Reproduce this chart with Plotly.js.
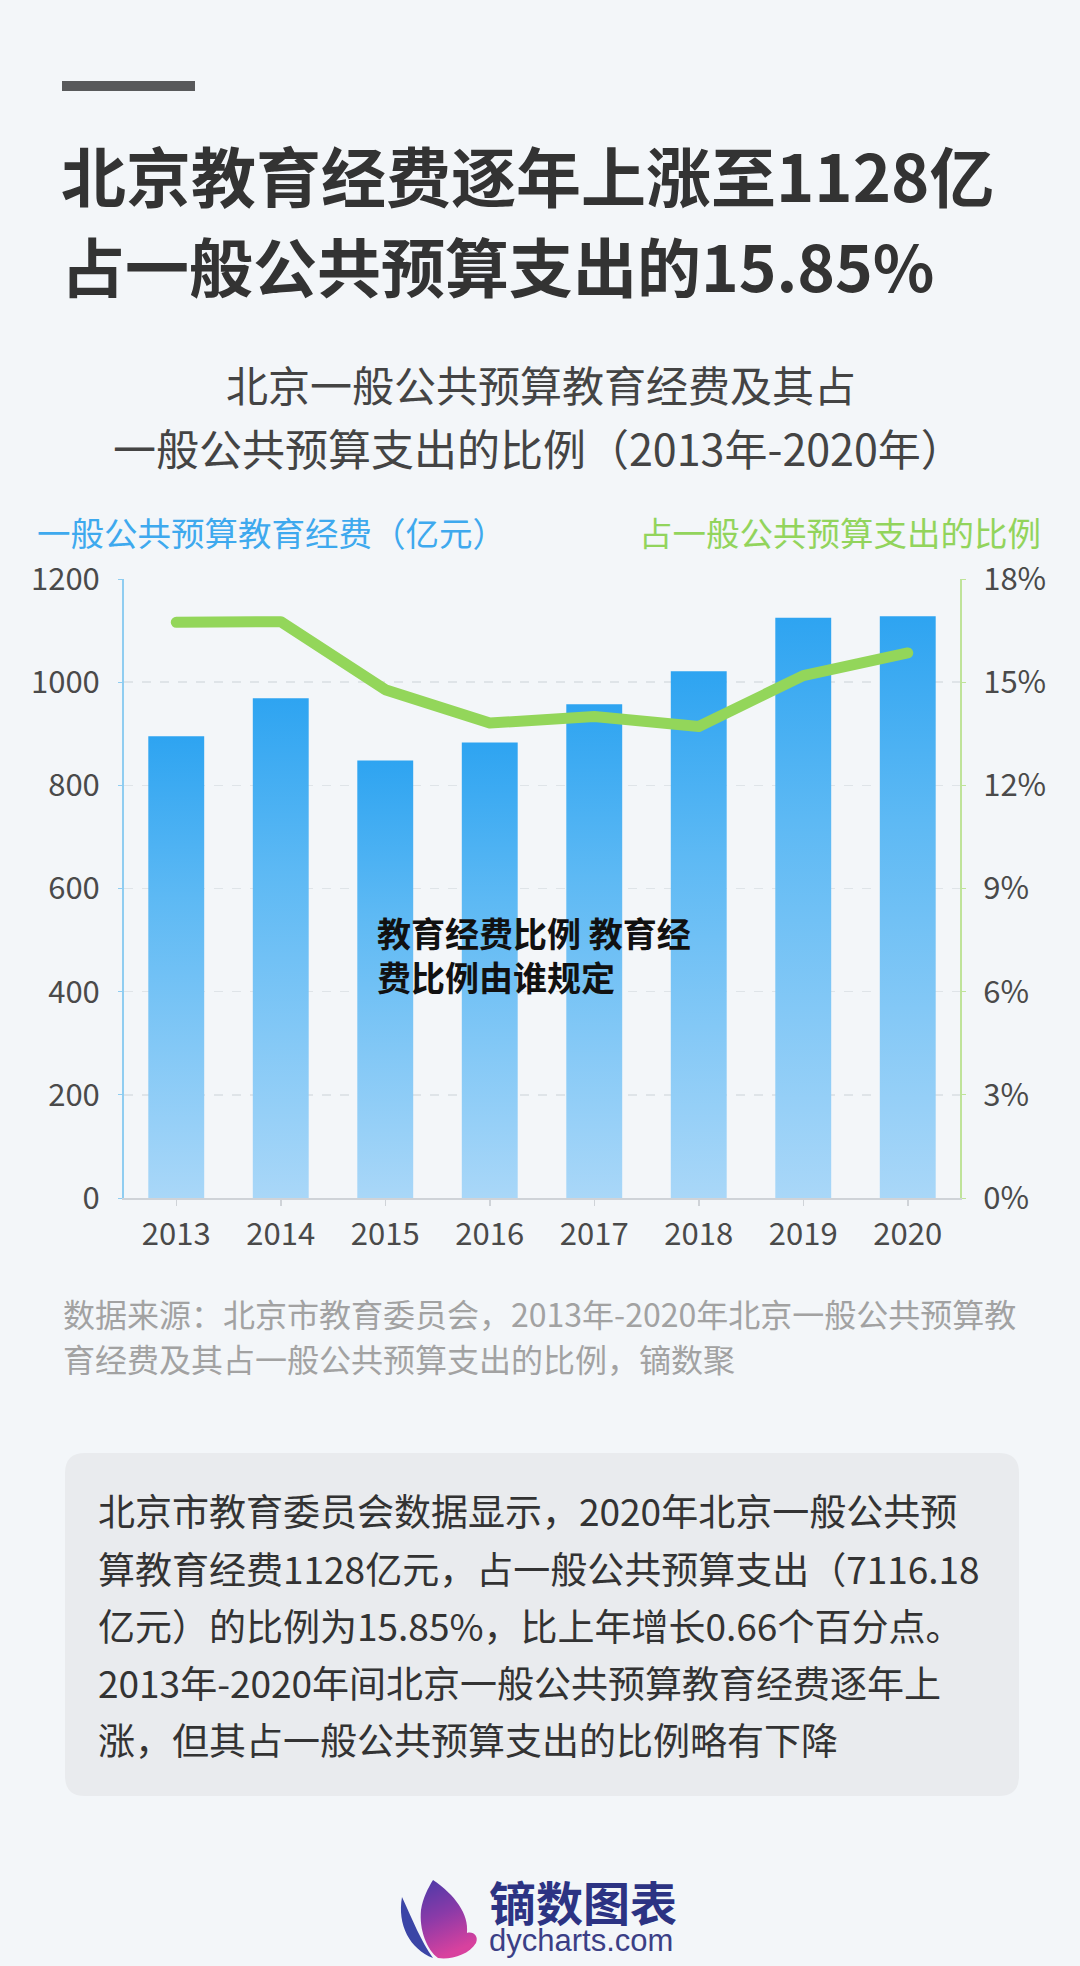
<!DOCTYPE html>
<html>
<head>
<meta charset="utf-8">
<script src="https://cdn.plot.ly/plotly-3.0.1.min.js"></script>
<style>
  html, body { margin: 0; padding: 0; background: #f3f6f9; }
  #chart { width: 1080px; height: 1966px; }
</style>
</head>
<body>
<div id="chart"></div>
<script>
// ---------- data ----------
const years = ['2013', '2014', '2015', '2016', '2017', '2018', '2019', '2020'];
const funding = [895, 969, 848, 883, 957, 1021, 1125, 1128];          // 亿元
const share = [16.74, 16.76, 14.78, 13.81, 14.00, 13.71, 15.19, 15.85]; // %
const leftTicks = [0, 200, 400, 600, 800, 1000, 1200];
const rightTicks = [0, 3, 6, 9, 12, 15, 18];

const titleLine1 = '北京教育经费逐年上涨至1128亿';
const titleLine2 = '占一般公共预算支出的15.85%';
const subLine1 = '北京一般公共预算教育经费及其占';
const subLine2 = '一般公共预算支出的比例（2013年-2020年）';
const leftLabel = '一般公共预算教育经费（亿元）';
const rightLabel = '占一般公共预算支出的比例';
const overlayLines = ['教育经费比例 教育经', '费比例由谁规定'];
const sourceLines = ['数据来源：北京市教育委员会，2013年-2020年北京一般公共预算教',
                     '育经费及其占一般公共预算支出的比例，镝数聚'];
const boxLines = ['北京市教育委员会数据显示，2020年北京一般公共预',
                  '算教育经费1128亿元，占一般公共预算支出（7116.18',
                  '亿元）的比例为15.85%，比上年增长0.66个百分点。',
                  '2013年-2020年间北京一般公共预算教育经费逐年上',
                  '涨，但其占一般公共预算支出的比例略有下降'];
const logoCN = '镝数图表';
const logoEN = 'dycharts.com';

// ---------- helpers ----------
const W = 1080, H = 1966;
const FONT = '"Noto Sans CJK SC", "Noto Sans", sans-serif';
const px = x => x / W;
const py = y => 1 - y / H;
function ann(text, x, y, size, color, xanchor, extra) {
  return Object.assign({
    text: text, x: px(x), y: py(y), xref: 'paper', yref: 'paper',
    xanchor: xanchor || 'left', yanchor: 'middle', showarrow: false,
    borderpad: 0,
    font: { family: FONT, size: size, color: color }
  }, extra || {});
}
function pth(s) {
  const t = s.trim().split(/\s+/);
  let out = [], isX = true;
  for (const tok of t) {
    if (/^[A-Za-z]$/.test(tok)) { out.push(tok); isX = true; }
    else { const v = parseFloat(tok); out.push(isX ? px(v).toFixed(5) : py(v).toFixed(5)); isX = !isX; }
  }
  return out.join(' ');
}

// ---------- traces ----------
const bars = {
  type: 'bar', x: years, y: funding, yaxis: 'y', xaxis: 'x',
  marker: { color: '#5db9f4', line: { width: 0 } }, hoverinfo: 'skip'
};
const line = {
  type: 'scatter', mode: 'lines', x: years, y: share, yaxis: 'y2', xaxis: 'x',
  line: { color: '#93d65a', width: 11 }, hoverinfo: 'skip'
};

// ---------- annotations ----------
const logoText = '<span style="font-size:47px;font-weight:bold;color:#2c3383">' + logoCN + '</span><br>' +
                 '<span style="font-size:31px;font-family:Liberation Sans, Arial, sans-serif">' + logoEN + '</span>';
const annotations = [
  ann('<b>' + titleLine1 + '</b>', 60, 174, 65, '#333333'),
  ann('<b>' + titleLine2 + '</b>', 60, 264, 64, '#333333'),
  ann(subLine1, 541, 384, 42, '#444444', 'center'),
  ann(subLine2, 538, 447, 43, '#444444', 'center'),
  ann(leftLabel, 36, 532, 33.5, '#3ea9ee'),
  ann(rightLabel, 1042, 532, 33.5, '#92d45c', 'right'),
  ann('<b>' + overlayLines.join('<br>') + '</b>', 376, 954, 34, '#111111', 'left', { align: 'left' }),
  ann(sourceLines[0], 62, 1313, 32, '#a2a2a2'),
  ann(sourceLines[1], 62, 1358, 32, '#a2a2a2'),
  ann(logoText, 488, 1912, 23, '#3b3f86', 'left', { align: 'left' })
];
const boxY = [1510, 1568, 1625, 1682, 1739];
boxLines.forEach((t, i) => annotations.push(ann(t, 97, boxY[i], 37, '#333333')));

// ---------- shapes ----------
const shapes = [
  { type: 'rect', xref: 'paper', yref: 'paper', x0: px(62), x1: px(195), y0: py(91), y1: py(81),
    fillcolor: '#58595b', line: { width: 0 }, layer: 'below' },
  { type: 'path', xref: 'paper', yref: 'paper', layer: 'below', fillcolor: '#e9ebee', line: { width: 0 },
    path: pth('M 85 1453 L 999 1453 Q 1019 1453 1019 1473 L 1019 1776 Q 1019 1796 999 1796 L 85 1796 Q 65 1796 65 1776 L 65 1473 Q 65 1453 85 1453 Z') },
  // logo: left wing
  { type: 'path', xref: 'paper', yref: 'paper', layer: 'above', fillcolor: '#3b45a6', line: { width: 0 },
    path: pth('M 402 1897 C 397 1925 410 1949 433 1958 C 421 1941 413 1921 402 1897 Z') },
  // logo: main petal (gradient applied after render)
  { type: 'path', xref: 'paper', yref: 'paper', layer: 'above', fillcolor: 'rgb(123, 58, 168)', line: { width: 0 },
    path: pth('M 433 1880 C 455 1895 469 1914 467 1933 C 473 1931 479 1936 476 1943 C 469 1955 450 1960 438 1958 C 427 1950 419 1930 421 1910 C 423 1898 428 1888 433 1880 Z') }
];

// ---------- layout ----------
const layout = {
  width: W, height: H,
  margin: { l: 0, r: 0, t: 0, b: 0, pad: 0 },
  paper_bgcolor: '#f3f6f9', plot_bgcolor: 'rgba(0,0,0,0)',
  font: { family: FONT, color: '#4a4a4a', size: 30 },
  showlegend: false,
  bargap: 0.465,
  xaxis: {
    type: 'category', domain: [px(124), px(960)], anchor: 'y',
    showline: true, linecolor: '#cfd3d8', linewidth: 2,
    ticks: 'outside', ticklen: 6, tickcolor: '#cfd3d8', tickwidth: 1.5,
    tickfont: { family: FONT, size: 31, color: '#4a4a4a' }, ticklabelstandoff: 2,
    showgrid: false, fixedrange: true
  },
  yaxis: {
    domain: [py(1198), py(579)], range: [0, 1200], tickvals: leftTicks, anchor: 'x',
    showline: true, linecolor: '#8fcdf1', linewidth: 2,
    ticks: 'outside', ticklen: 4, tickcolor: '#8fcdf1',
    tickfont: { family: FONT, size: 31, color: '#4a4a4a' }, ticklabelstandoff: 12,
    showgrid: true, gridcolor: '#dfe4e8', gridwidth: 1.5, griddash: 'dash',
    zeroline: false, fixedrange: true
  },
  yaxis2: {
    overlaying: 'y', side: 'right', anchor: 'x', range: [0, 18], tickvals: rightTicks,
    ticktext: rightTicks.map(v => v + '%'),
    showline: true, linecolor: '#bfe39a', linewidth: 2,
    ticks: 'outside', ticklen: 4, tickcolor: '#bfe39a',
    tickfont: { family: FONT, size: 31, color: '#4a4a4a' }, ticklabelstandoff: 11,
    showgrid: false, zeroline: false, fixedrange: true
  },
  annotations: annotations,
  shapes: shapes
};

Plotly.newPlot('chart', [bars, line], layout, { staticPlot: true, displayModeBar: false }).then(gd => {
  const ns = 'http://www.w3.org/2000/svg';
  const svg = gd.querySelector('.main-svg');
  let defs = svg.querySelector('defs');
  if (!defs) { defs = document.createElementNS(ns, 'defs'); svg.insertBefore(defs, svg.firstChild); }
  function grad(id, x2, y2, stops) {
    const g = document.createElementNS(ns, 'linearGradient');
    g.setAttribute('id', id);
    g.setAttribute('x1', '0'); g.setAttribute('y1', '0');
    g.setAttribute('x2', x2); g.setAttribute('y2', y2);
    stops.forEach(s => {
      const st = document.createElementNS(ns, 'stop');
      st.setAttribute('offset', s[0]); st.setAttribute('stop-color', s[1]);
      g.appendChild(st);
    });
    defs.appendChild(g);
  }
  grad('barGrad', '0', '1', [['0', '#2ea4f1'], ['0.35', '#5db9f4'], ['1', '#a9d7f8']]);
  grad('iconGrad', '0.3', '1', [['0', '#4a3aa8'], ['0.5', '#8a3aa8'], ['1', '#d8419e']]);
  gd.querySelectorAll('.barlayer .point path').forEach(p => { p.style.fill = 'url(#barGrad)'; });
  gd.querySelectorAll('.scatterlayer .js-line').forEach(p => {
    p.style.strokeLinejoin = 'round'; p.style.strokeLinecap = 'round';
  });
  gd.querySelectorAll('.shapelayer path').forEach(p => {
    if ((p.style.fill || '').replace(/\s/g, '') === 'rgb(123,58,168)') p.style.fill = 'url(#iconGrad)';
  });
});
</script>
</body>
</html>
